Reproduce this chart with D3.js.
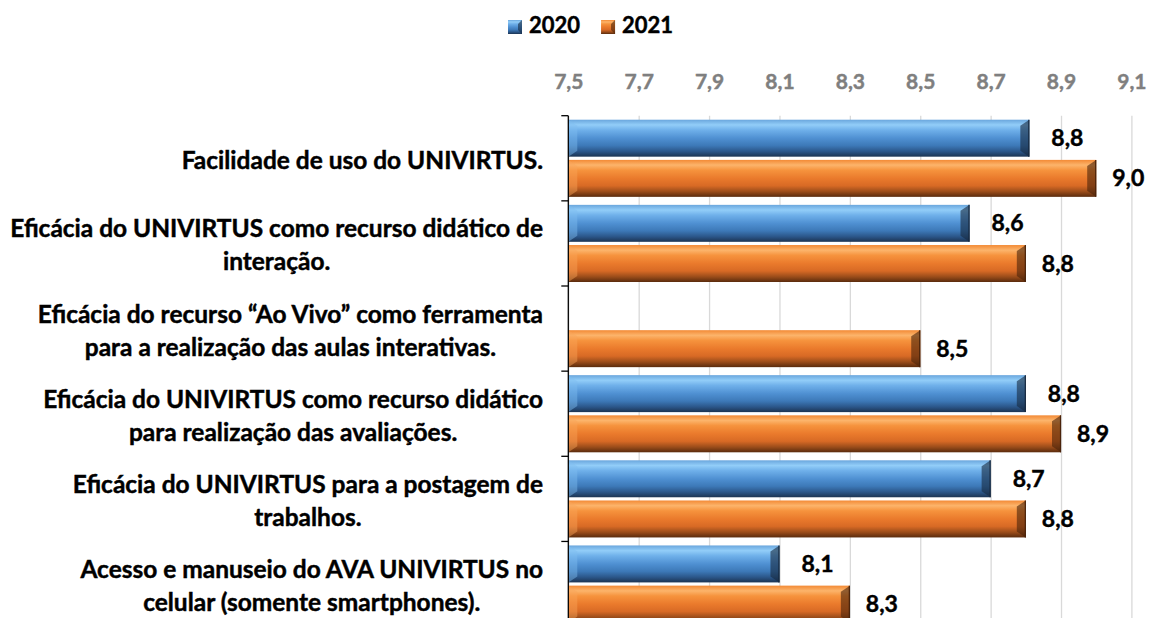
<!DOCTYPE html>
<html>
<head>
<meta charset="utf-8">
<script src="https://cdn.jsdelivr.net/npm/d3@7"></script>
<style>
  body { margin: 0; background: #fff; }
  svg { display: block; font-family: Lato, "Liberation Sans", sans-serif; font-weight: bold; }
  .heavy { stroke-width: 0.45px; paint-order: stroke; }
</style>
</head>
<body>
<svg id="chart" width="1151" height="618"></svg>
<script>
// data
var categories = [
  "Facilidade de uso do UNIVIRTUS.",
  "Eficácia do UNIVIRTUS como recurso didático de\ninteração.",
  "Eficácia do recurso “Ao Vivo” como ferramenta\npara a realização das aulas interativas.",
  "Eficácia do UNIVIRTUS como recurso didático\npara realização das avaliações.",
  "Eficácia do UNIVIRTUS para a postagem de\ntrabalhos.",
  "Acesso e manuseio do AVA UNIVIRTUS no\ncelular (somente smartphones)."
];
var seriesNames = ["2020", "2021"];
var values2020 = [8.81, 8.64, null, 8.80, 8.70, 8.10];
var values2021 = [9.00, 8.80, 8.50, 8.90, 8.80, 8.30];
var xTicks = [7.5, 7.7, 7.9, 8.1, 8.3, 8.5, 8.7, 8.9, 9.1];

var seriesValues = [values2020, values2021];

var svg = d3.select("#chart");

var plotTop = 115.7, step = 85.15;
var x = d3.scaleLinear().domain([7.5, 9.1]).range([568.3, 1131.4]);
var y = d3.scaleBand()
    .domain(d3.range(categories.length))
    .range([plotTop, plotTop + step * categories.length]);
var ySub = d3.scaleBand()
    .domain(seriesNames)
    .range([4, y.bandwidth() - 4])
    .paddingInner(0.08);
var plotBottom = y.range()[1];

var fmt = d3.formatLocale({decimal: ",", thousands: ".", grouping: [3], currency: ["R$", ""]}).format(".1f");

// gradients for the bevelled bars
var palette = {
  "2020": {stops: ["#6aa6dd", "#92cdf8", "#6fb0ea", "#4f90d2", "#3d79b8", "#2b5689", "#1c3452"],
           light: "#7fbdf0", dark: "#17293f"},
  "2021": {stops: ["#f38a35", "#fcb46b", "#f6933d", "#ea7a2c", "#d86a25", "#9a4c1a", "#5a2b0d"],
           light: "#f9a559", dark: "#4a230a"}
};
var offs = [0, 0.14, 0.28, 0.5, 0.7, 0.86, 1];
var defs = svg.append("defs");
seriesNames.forEach(function(s) {
  var g = defs.append("linearGradient")
      .attr("id", "grad" + s)
      .attr("x1", 0).attr("y1", 0).attr("x2", 0).attr("y2", 1);
  palette[s].stops.forEach(function(c, i) {
    g.append("stop").attr("offset", offs[i]).attr("stop-color", c);
  });
});

// grid + x tick labels
var xAxis = svg.append("g")
    .attr("transform", "translate(0," + plotTop + ")")
    .call(d3.axisTop(x)
      .tickValues(xTicks)
      .tickSize(-(plotBottom - plotTop))
      .tickPadding(27)
      .tickFormat(fmt));
xAxis.select(".domain").remove();
xAxis.selectAll("line").attr("stroke", "#d9d9d9").attr("stroke-width", 1.3);
xAxis.selectAll("text")
    .attr("class", "heavy")
    .attr("fill", "#7f7f7f")
    .attr("stroke", "#7f7f7f")
    .style("font-size", "21px")
    .style("font-family", "Lato, 'Liberation Sans', sans-serif")
    .style("font-weight", "bold");

// bars
var bars = [];
categories.forEach(function(c, i) {
  seriesNames.forEach(function(s, j) {
    var v = seriesValues[j][i];
    if (v == null) return;
    bars.push({cat: i, series: s, value: v});
  });
});

var bar = svg.selectAll(".bar")
    .data(bars)
  .enter().append("g")
    .attr("class", "bar");

bar.each(function(d) {
  var g = d3.select(this);
  var x0 = x(7.5), x1 = x(d.value);
  var y0 = y(d.cat) + ySub(d.series), y1 = y0 + ySub.bandwidth();
  var bx = 9, by = 6;
  g.append("rect")
      .attr("x", x0).attr("y", y0)
      .attr("width", x1 - x0).attr("height", y1 - y0)
      .attr("fill", "url(#grad" + d.series + ")");
  // left bevel
  g.append("polygon")
      .attr("points", [[x0, y0], [x0 + bx, y0 + by], [x0 + bx, y1 - by], [x0, y1]].join(" "))
      .attr("fill", palette[d.series].light)
      .attr("opacity", 0.45);
  // right bevel
  g.append("polygon")
      .attr("points", [[x1, y0], [x1 - bx, y0 + by], [x1 - bx, y1 - by], [x1, y1]].join(" "))
      .attr("fill", palette[d.series].dark)
      .attr("opacity", 0.6);
  g.append("line")
      .attr("x1", x1 - 0.5).attr("x2", x1 - 0.5)
      .attr("y1", y0).attr("y2", y1)
      .attr("stroke", palette[d.series].dark)
      .attr("stroke-width", 1.2);
});

// value labels
var labelOffset = {"2020": 22, "2021": 16};
svg.selectAll(".value")
    .data(bars)
  .enter().append("text")
    .attr("class", "value heavy")
    .attr("x", function(d) { return x(d.value) + labelOffset[d.series]; })
    .attr("y", function(d) { return y(d.cat) + ySub(d.series) + ySub.bandwidth() / 2; })
    .attr("dy", "0.35em")
    .attr("fill", "#000")
    .attr("stroke", "#000")
    .style("font-size", "23px")
    .text(function(d) { return fmt(d.value); });

// category axis
svg.append("line")
    .attr("x1", x(7.5)).attr("x2", x(7.5))
    .attr("y1", plotTop).attr("y2", plotBottom)
    .attr("stroke", "#000").attr("stroke-width", 1.3);
svg.selectAll(".catTick")
    .data(d3.range(categories.length + 1))
  .enter().append("line")
    .attr("class", "catTick")
    .attr("x1", x(7.5) - 7).attr("x2", x(7.5))
    .attr("y1", function(i) { return plotTop + i * step; })
    .attr("y2", function(i) { return plotTop + i * step; })
    .attr("stroke", "#000").attr("stroke-width", 1.3);

// category labels: centred lines, block right-aligned
var labelRight = 543, lineH = 33;
var catSize = 20;
var probe = svg.append("text").style("font-size", catSize + "px").text("Eficácia do UNIVIRTUS como recurso didático de");
var probeW = probe.node().getComputedTextLength();
probe.remove();
catSize = catSize * 533 / probeW;

categories.forEach(function(c, i) {
  var lines = c.split("\n");
  var t = svg.append("text")
      .attr("class", "heavy")
      .attr("fill", "#000")
      .attr("stroke", "#000")
      .attr("text-anchor", "middle")
      .style("font-size", catSize + "px");
  var cy = y(i) + y.bandwidth() / 2 + 2;
  var spans = lines.map(function(l, k) {
    return t.append("tspan")
        .attr("y", cy + (k - (lines.length - 1) / 2) * lineH)
        .attr("dy", "0.35em")
        .text(l);
  });
  var maxW = d3.max(spans, function(s) { return s.node().getComputedTextLength(); });
  spans.forEach(function(s) { s.attr("x", labelRight - maxW / 2); });
});

// legend
var legend = svg.append("g");
var lx = 508;
seriesNames.forEach(function(s) {
  var item = legend.append("g").attr("transform", "translate(" + lx + ",0)");
  item.append("rect")
      .attr("x", 0).attr("y", 20).attr("width", 14).attr("height", 14)
      .attr("fill", "url(#grad" + s + ")");
  item.append("polygon")
      .attr("points", "14,20 10,24 10,30 14,34")
      .attr("fill", palette[s].dark).attr("opacity", 0.6);
  var txt = item.append("text")
      .attr("class", "heavy")
      .attr("x", 21).attr("y", 33)
      .attr("fill", "#000")
      .attr("stroke", "#000")
      .style("font-size", "22px")
      .text(s);
  lx += 21 + txt.node().getComputedTextLength() + 21;
});
</script>
</body>
</html>
